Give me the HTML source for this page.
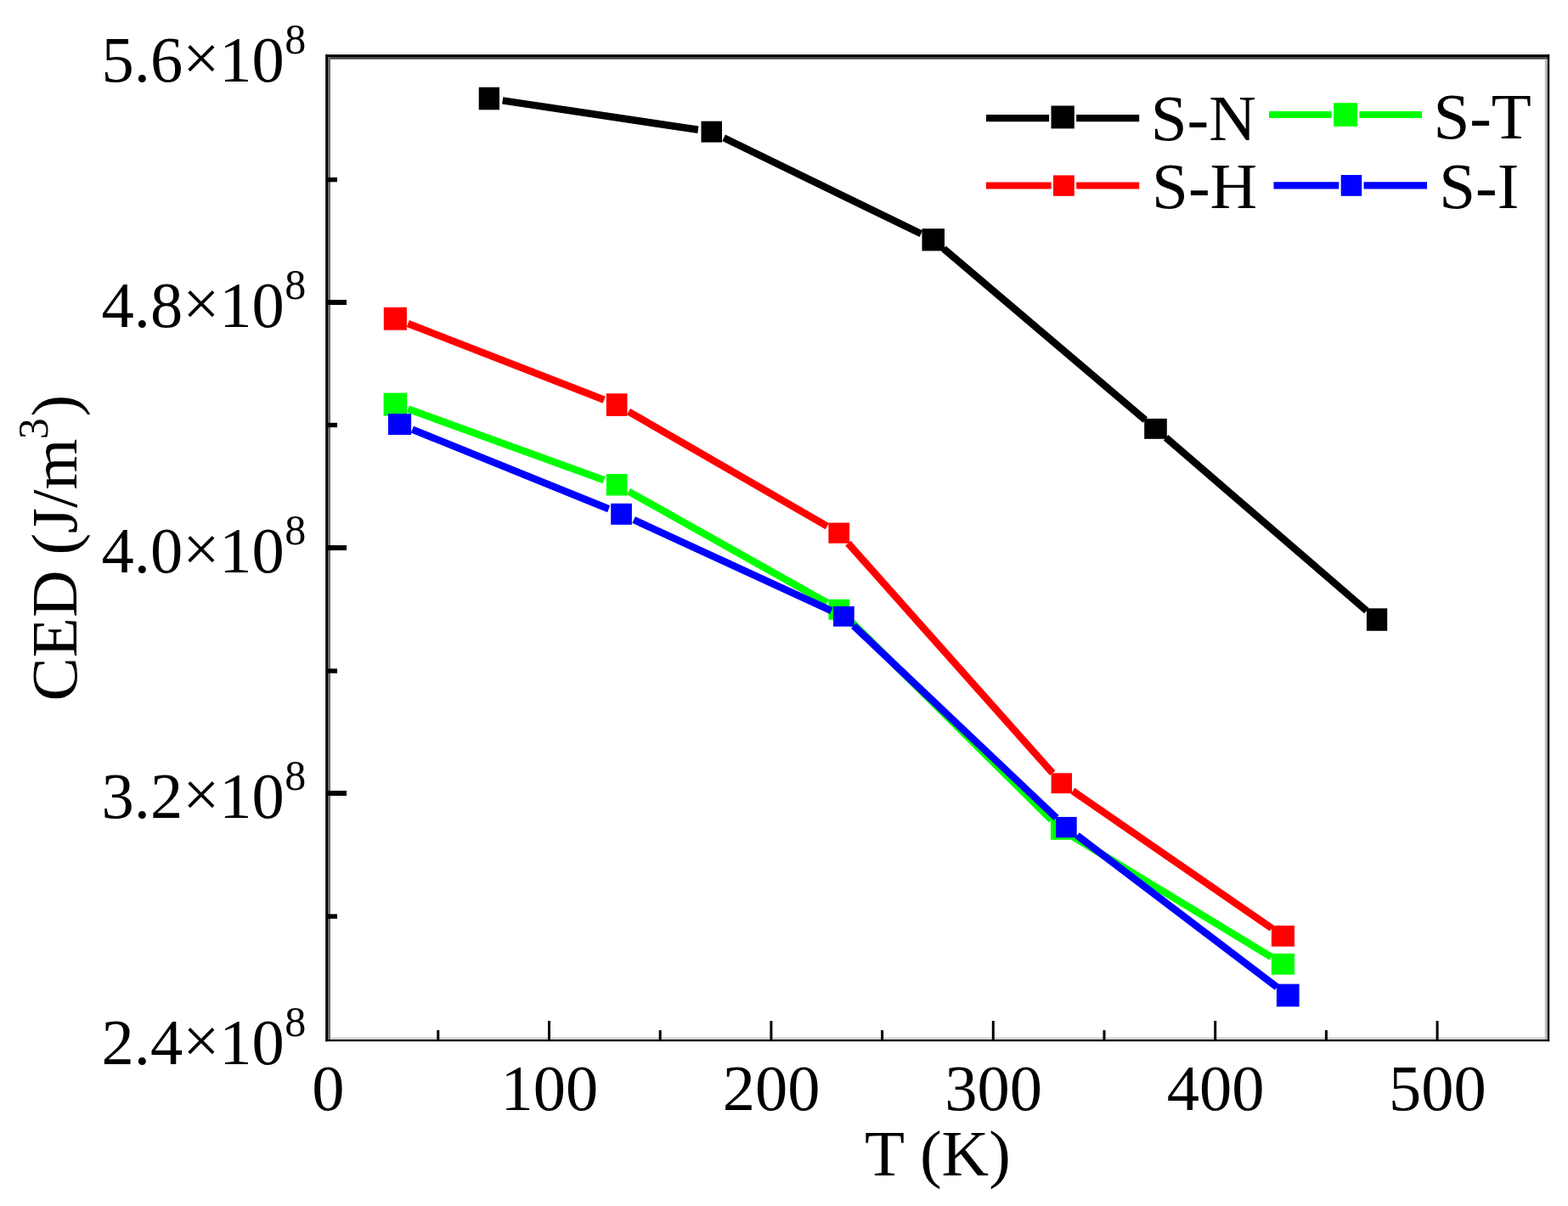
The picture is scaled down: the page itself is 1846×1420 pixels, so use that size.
<!DOCTYPE html>
<html lang="en"><head><meta charset="utf-8"><title>CED vs T</title>
<style>html,body{margin:0;padding:0;background:#fff;}body{width:1846px;height:1420px;overflow:hidden;}svg{display:block;}text{font-family:"Liberation Serif","DejaVu Serif",serif;fill:#000;}</style>
</head><body>
<svg width="1846" height="1420" viewBox="0 0 1846 1420">
<rect x="0" y="0" width="1846" height="1420" fill="#fff"/>
<g>
<rect x="385.2" y="67.0" width="1437.0" height="2.8" fill="#4a4a4a"/>
<rect x="385.2" y="1221.3" width="1437.0" height="2.7" fill="#d4d4d4"/>
<rect x="386.0" y="66.2" width="3.0" height="1158.0" fill="#6a6a6a"/>
<rect x="1818.8" y="69.8" width="3.0" height="1154.4" fill="#bcbcbc"/>
<rect x="383.2" y="64.2" width="1441.0" height="2.8" fill="#000"/>
<rect x="383.2" y="1224.0" width="1441.0" height="2.2" fill="#000"/>
<rect x="383.2" y="64.2" width="2.8" height="1162.0" fill="#000"/>
<rect x="1821.8" y="64.2" width="2.4" height="1162.0" fill="#000"/>
<rect x="386.0" y="353.0" width="22.0" height="6.0" fill="#000"/>
<rect x="386.0" y="642.0" width="22.0" height="6.0" fill="#000"/>
<rect x="386.0" y="931.0" width="22.0" height="6.0" fill="#000"/>
<rect x="386.0" y="208.9" width="11.0" height="5.4" fill="#000"/>
<rect x="386.0" y="497.8" width="11.0" height="5.4" fill="#000"/>
<rect x="386.0" y="787.3" width="11.0" height="5.4" fill="#000"/>
<rect x="386.0" y="1076.3" width="11.0" height="5.4" fill="#000"/>
<rect x="645.0" y="1202.0" width="3.0" height="22.0" fill="#000"/>
<rect x="906.4" y="1202.0" width="3.0" height="22.0" fill="#000"/>
<rect x="1167.8" y="1202.0" width="3.0" height="22.0" fill="#000"/>
<rect x="1429.2" y="1202.0" width="3.0" height="22.0" fill="#000"/>
<rect x="1690.6" y="1202.0" width="3.0" height="22.0" fill="#000"/>
<rect x="514.3" y="1213.0" width="3.0" height="11.0" fill="#000"/>
<rect x="775.7" y="1213.0" width="3.0" height="11.0" fill="#000"/>
<rect x="1037.1" y="1213.0" width="3.0" height="11.0" fill="#000"/>
<rect x="1298.5" y="1213.0" width="3.0" height="11.0" fill="#000"/>
<rect x="1559.9" y="1213.0" width="3.0" height="11.0" fill="#000"/>
</g>
<text x="119.5" y="95.6" font-size="76.5">5.6<tspan dy="-2">×</tspan><tspan dy="2">10</tspan><tspan dx="0.5" dy="-32.5" font-size="50.0">8</tspan></text>
<text x="119.5" y="384.6" font-size="76.5">4.8<tspan dy="-2">×</tspan><tspan dy="2">10</tspan><tspan dx="0.5" dy="-32.5" font-size="50.0">8</tspan></text>
<text x="119.5" y="673.6" font-size="76.5">4.0<tspan dy="-2">×</tspan><tspan dy="2">10</tspan><tspan dx="0.5" dy="-32.5" font-size="50.0">8</tspan></text>
<text x="119.5" y="962.6" font-size="76.5">3.2<tspan dy="-2">×</tspan><tspan dy="2">10</tspan><tspan dx="0.5" dy="-32.5" font-size="50.0">8</tspan></text>
<text x="119.5" y="1252.6" font-size="76.5">2.4<tspan dy="-2">×</tspan><tspan dy="2">10</tspan><tspan dx="0.5" dy="-32.5" font-size="50.0">8</tspan></text>
<text x="386.3" y="1307.3" font-size="76.5" text-anchor="middle">0</text>
<text x="646.8" y="1307.3" font-size="76.5" text-anchor="middle">100</text>
<text x="908.2" y="1307.3" font-size="76.5" text-anchor="middle">200</text>
<text x="1169.6" y="1307.3" font-size="76.5" text-anchor="middle">300</text>
<text x="1431.0" y="1307.3" font-size="76.5" text-anchor="middle">400</text>
<text x="1692.4" y="1307.3" font-size="76.5" text-anchor="middle">500</text>
<text x="1018" y="1384" font-size="77.0">T (K)</text>
<text transform="translate(90.2,825.5) rotate(-90)" font-size="77.0">CED<tspan dx="-1.3"> (J/m</tspan><tspan dx="-0.7" dy="-34" font-size="50.0">3</tspan><tspan dx="1.8" dy="34" font-size="77.0">)</tspan></text>
<path d="M591.7 118.4L821.9 152.8M852.1 162.2L1084.4 275.3M1110.9 292.7L1348.3 494.5M1372.6 515.3L1608.9 719.1" fill="none" stroke="#000000" stroke-width="8.5"/>
<rect x="563.7" y="102.7" width="24.3" height="26.6" fill="#000000"/>
<rect x="825.5" y="142.7" width="24.5" height="24.9" fill="#000000"/>
<rect x="1085.5" y="269.2" width="26.5" height="26.2" fill="#000000"/>
<rect x="1347.2" y="492.9" width="26.6" height="23.9" fill="#000000"/>
<rect x="1608.9" y="716.3" width="24.3" height="26.5" fill="#000000"/>
<path d="M480.3 381.0L711.2 470.8M740.0 484.6L973.9 619.6M998.4 639.6L1239.2 910.3M1263.0 931.3L1497.3 1093.1" fill="none" stroke="#ff0000" stroke-width="8.5"/>
<rect x="451.8" y="361.8" width="27.1" height="26.9" fill="#ff0000"/>
<rect x="713.8" y="463.3" width="24.7" height="26.6" fill="#ff0000"/>
<rect x="975.4" y="615.5" width="24.7" height="24.2" fill="#ff0000"/>
<rect x="1237.6" y="910.3" width="24.4" height="23.9" fill="#ff0000"/>
<rect x="1496.9" y="1089.8" width="27.1" height="24.7" fill="#ff0000"/>
<path d="M480.4 481.6L711.1 565.3M740.1 578.6L973.8 709.8M999.1 728.9L1238.0 965.4M1263.0 985.0L1496.8 1126.8" fill="none" stroke="#00ff00" stroke-width="8.5"/>
<rect x="451.6" y="462.6" width="27.5" height="27.1" fill="#00ff00"/>
<rect x="713.8" y="558.0" width="24.7" height="25.5" fill="#00ff00"/>
<rect x="975.4" y="705.6" width="24.7" height="24.1" fill="#00ff00"/>
<rect x="1236.9" y="964.5" width="24.9" height="24.3" fill="#00ff00"/>
<rect x="1496.9" y="1122.7" width="27.1" height="24.9" fill="#00ff00"/>
<path d="M485.4 505.6L716.7 599.3M746.1 612.0L978.8 719.1M1005.0 736.8L1243.7 963.0M1268.1 983.7L1503.5 1162.3" fill="none" stroke="#0000ff" stroke-width="8.5"/>
<rect x="457.0" y="487.1" width="27.1" height="24.9" fill="#0000ff"/>
<rect x="719.2" y="592.8" width="24.7" height="25.0" fill="#0000ff"/>
<rect x="981.0" y="713.8" width="24.7" height="23.9" fill="#0000ff"/>
<rect x="1243.0" y="961.9" width="24.7" height="24.3" fill="#0000ff"/>
<rect x="1502.9" y="1158.6" width="26.7" height="26.7" fill="#0000ff"/>
<path d="M1161.0 139.2H1235.1M1267.2 139.2H1341.2" stroke="#000000" stroke-width="8.2" fill="none"/>
<rect x="1237.5" y="124.5" width="27.3" height="26.9" fill="#000000"/>
<text x="1354.8" y="165.1" font-size="77.0">S-N</text>
<path d="M1161.0 218.5H1237.6M1267.2 218.5H1341.2" stroke="#ff0000" stroke-width="8.2" fill="none"/>
<rect x="1240.0" y="206.4" width="24.8" height="24.4" fill="#ff0000"/>
<text x="1356.1" y="245.0" font-size="77.0">S-H</text>
<path d="M1494.0 135.0H1567.7M1600.4 135.0H1674.0" stroke="#00ff00" stroke-width="8.2" fill="none"/>
<rect x="1570.1" y="121.2" width="27.9" height="27.7" fill="#00ff00"/>
<text x="1687.4" y="162.5" font-size="77.0">S-T</text>
<path d="M1499.5 218.3H1576.3M1605.6 218.3H1680.0" stroke="#0000ff" stroke-width="8.2" fill="none"/>
<rect x="1578.7" y="206.0" width="24.5" height="24.8" fill="#0000ff"/>
<text x="1694.2" y="244.6" font-size="77.0">S-I</text>
</svg>
</body></html>
